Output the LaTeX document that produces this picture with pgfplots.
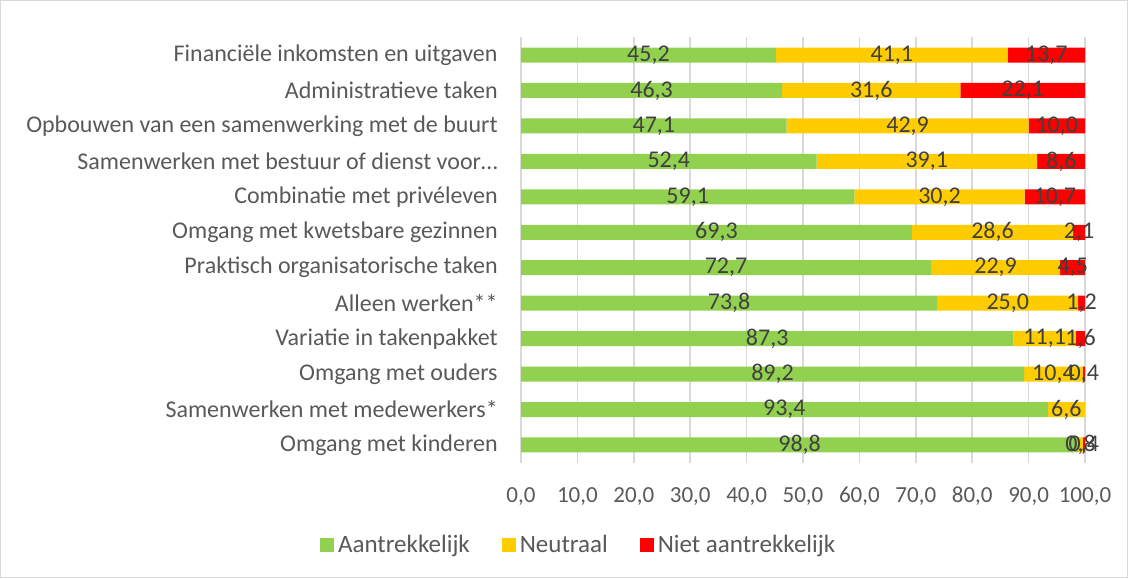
\documentclass[border=0pt]{standalone}
\usepackage{pgfplots}
\pgfplotsset{compat=1.18}
\usepackage{pgfplotstable}
\usepackage{fontspec}
\setmainfont{Carlito}

\definecolor{cgreen}{HTML}{92D050}
\definecolor{cyellow}{HTML}{FFCC00}
\definecolor{cred}{HTML}{FF0000}
\definecolor{txt}{HTML}{595959}
\definecolor{lbl}{HTML}{404040}
\definecolor{grd}{HTML}{D9D9D9}

% y: 0 = bottom category
\pgfplotstableread{
y a n r
0 98.8 0.8 0.4
1 93.4 6.6 0
2 89.2 10.4 0.4
3 87.3 11.1 1.6
4 73.8 25.0 1.2
5 72.7 22.9 4.5
6 69.3 28.6 2.1
7 59.1 30.2 10.7
8 52.4 39.1 8.6
9 47.1 42.9 10.0
10 46.3 31.6 22.1
11 45.2 41.1 13.7
}\data

\pgfplotsset{
  frame/.style={
    at={(260.5pt,57.65pt)}, anchor=south west,
    width=282pt, height=212.7pt, scale only axis,
    xmin=0, xmax=100, ymin=-0.5, ymax=11.5,
  },
  seglabel/.style={
    draw=none, mark=none, forget plot,
    point meta=explicit,
    nodes near coords={\pgfmathfloatifflags{\pgfplotspointmeta}{0}{}{\pgfmathprintnumber{\pgfplotspointmeta}}},
    nodes near coords style={font=\fontsize{12}{14}\selectfont, text=lbl, inner sep=0pt, anchor=center},
  },
}

\begin{document}
\begin{tikzpicture}
\path[use as bounding box] (0,0) rectangle (564pt,289pt);
\draw[grd, line width=0.6pt] (0.3pt,0.3pt) rectangle (563.7pt,288.7pt);

\begin{axis}[
  frame,
  xbar stacked, bar width=7.5pt,
  axis line style={draw=none},
  xtick={0,10,...,100},
  ytick={0,...,11},
  yticklabels={Omgang met kinderen, Samenwerken met medewerkers*, Omgang met ouders, Variatie in takenpakket, Alleen werken**, Praktisch organisatorische taken, Omgang met kwetsbare gezinnen, Combinatie met privéleven, Samenwerken met bestuur of dienst voor…, Opbouwen van een samenwerking met de buurt, Administratieve taken\ , Financiële inkomsten en uitgaven},
  major tick length=0pt,
  tick style={draw=none},
  xmajorgrids, grid style={grd, line width=0.8pt},
  /pgf/number format/.cd, fixed, fixed zerofill, precision=1, use comma, assume math mode=true,
  /pgfplots/.cd,
  yticklabel style={font=\fontsize{12}{14}\selectfont, text=txt, inner sep=0pt, xshift=-11.5pt},
  xticklabel style={font=\fontsize{11.5}{13}\selectfont, text=txt, inner sep=0pt, yshift=-12pt},
  legend style={at={(0.104,-0.194)}, anchor=center, draw=none, fill=none,
    font=\fontsize{12.5}{14}\selectfont, text=txt,
    legend columns=3, /tikz/every even column/.append style={column sep=14pt}},
  legend image code/.code={\fill[#1] (0pt,-3.5pt) rectangle (7pt,3.5pt);},
]
\addplot[fill=cgreen, draw=none] table[x=a, y=y] {\data};
\addlegendentry{Aantrekkelijk}
\addplot[fill=cyellow, draw=none] table[x=n, y=y] {\data};
\addlegendentry{Neutraal}
\addplot[fill=cred, draw=none] table[x=r, y=y] {\data};
\addlegendentry{Niet aantrekkelijk}
\end{axis}

% data labels, centred in each segment
\begin{axis}[frame, hide axis,
  /pgf/number format/.cd, fixed, fixed zerofill, precision=1, use comma, assume math mode=true]
\addplot[seglabel] table[x expr=\thisrow{a}/2, y=y, meta=a] {\data};
\addplot[seglabel] table[x expr=\thisrow{a}+\thisrow{n}/2, y=y, meta=n] {\data};
\addplot[seglabel] table[x expr=\thisrow{a}+\thisrow{n}+\thisrow{r}/2, y=y, meta=r] {\data};
\end{axis}
\end{tikzpicture}
\end{document}
